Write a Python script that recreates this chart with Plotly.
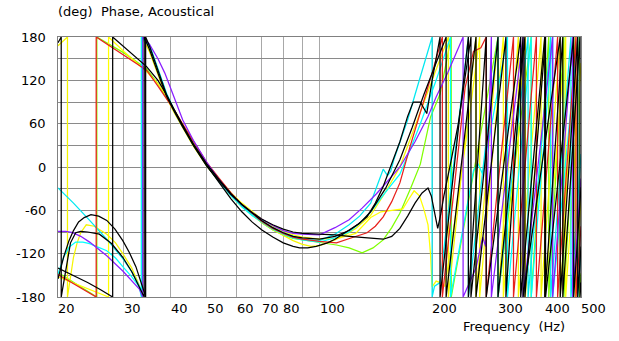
import math
import plotly.graph_objects as go

# ---------------- data ----------------
# Each curve: explicit (freq Hz, phase deg) points up to its first high-frequency wrap,
# then the high-frequency part: numbers are frequencies where the phase wraps from +180
# to -180, (f, phase) pairs are extra points read between wraps; and its value at 500 Hz.

black1_f = [20, 20.7, 21.4, 22, 22.7, 23.5, 24.5, 25.7, 27, 28.4, 29.8, 31, 32.3, 33.3, 34, 34.3,
            34.3, 35.1, 37, 39, 41, 43, 46, 50, 54, 58, 62, 66, 70, 75, 80, 85, 88.5, 93, 98, 105, 110,
            120, 127, 134, 141, 148, 156, 164, 172, 178, 186, 193.5, 200, 210]
black1_p = [-155, -125, -102, -88, -76, -70, -66, -68, -74, -86, -102, -118, -138, -157, -173, -180,
            180, 168, 134, 100, 78, 58, 31, 2, -22, -44, -62, -76, -87, -97, -105, -110, -112, -112, -110, -105, -100,
            -87, -79, -69, -50, -27, 5, 35, 70, 90, 90, 74, 120, 180]
black1_hf = [250, 279, 345, 400, 447, 497]
black1_end = -160

black2_f = [20, 20.4, 20.4, 20.7, 21, 21.3, 21.6, 22.3, 23, 24, 25.8, 27.8, 29.8, 31.5, 33.3, 34,
            34, 35.1, 37, 39, 41, 43, 46, 50, 54, 58, 62, 66, 70, 75, 80, 85, 90, 100, 110, 120, 137, 148,
            156, 164, 172, 180, 188, 195, 199, 203, 207, 211, 215, 225, 235, 254]
black2_p = [172, 180, -180, -160, -140, -120, -105, -91, -89, -90, -93, -106, -125, -145, -169, -180,
            180, 163, 130, 98, 76, 56, 30, 1, -20, -38, -52, -63, -72, -80, -86, -90, -92, -93, -94, -96, -99, -100,
            -96, -85, -68, -50, -36, -29, -40, -65, -85, -65, -40, 10, 60, 180]
black2_hf = [300, 354, 402, 478]
black2_end = -28

black3_f = [20, 22, 24, 26, 28, 28, 30, 34.5, 37, 39, 41, 43, 46, 50, 54, 58, 62, 66, 70, 75, 80, 85, 90,
            100, 110, 120, 128, 137, 150, 164, 177, 190, 204, 218]
black3_p = [-140, -150, -160, -170, -180, 180, 166, 139, 120, 100, 78, 58, 32, 4, -18, -37, -52, -64, -74, -84, -91, -96, -98,
            -100, -96, -88, -78, -62, -30, 10, 55, 100, 140, 180]
black3_hf = [262, 315, 350, 440, 490]
black3_end = -110

red_f = [20, 22.5, 25.3, 25.3, 30, 34.5, 37, 39, 41, 43, 46, 50, 54, 58, 62, 66, 70, 75, 80, 85, 90, 100,
         111, 122, 134, 141, 148, 156, 164, 175, 186, 200, 213]
red_p = [-149, -165, -180, 180, 155, 134, 112, 95, 78, 60, 36, 6, -16, -36, -52, -64, -75, -85, -92, -97, -100, -103,
         -105, -98, -91, -82, -69, -48, -22, 30, 75, 130, 180]
red_hf = [(245, 110), (258, 160), (270, 165), 279, 330, 380, 433, 485]
red_end = -82

yellow1_f = [20, 21.2, 21.2, 21.6, 22, 22.5, 23, 23.8, 25, 27, 28.5, 29.8, 31.5, 33, 33.5,
             33.5, 35.1, 37, 39, 41, 43, 46, 50, 54, 58, 62, 66, 70, 75, 80, 85, 90, 95, 100, 110, 118, 125,
             137, 150, 164, 175, 186, 200, 221]
yellow1_p = [168, 180, -180, -150, -125, -105, -91, -80, -82, -93, -105, -120, -140, -164, -180,
             180, 160, 128, 96, 74, 55, 29, 1, -21, -40, -55, -67, -77, -87, -95, -102, -107, -110, -109, -101, -93, -85,
             -67, -35, 0, 40, 75, 120, 180]
yellow1_hf = [262, 300, 340, 391, 440, 483]
yellow1_end = -44

yellow2_f = [20, 24, 27.3, 27.3, 30, 34.5, 37, 39, 41, 43, 46, 50, 54, 58, 62, 66, 70, 75, 80, 85, 90, 100, 112,
             125, 130, 137, 146, 155, 167, 173, 179, 185, 190, 195, 198, 200, 205, 210, 216, 225, 235, 250, 268]
yellow2_p = [-152, -168, -180, 180, 160, 132, 115, 99, 78, 59, 33, 5, -17, -36, -50, -62, -72, -82, -89, -94, -97, -100, -99,
             -92, -82, -70, -62, -60, -58, -45, -33, -40, -58, -80, -120, -166, -158, -160, -165, -110, -40, 60, 180]
yellow2_hf = [310, 355, 400, 455]
yellow2_end = 144

cyan1_f = [20, 22, 24.3, 27, 29.8, 31.5, 33.3, 33.6, 33.6, 35.1, 37, 39, 41, 43, 46, 50, 54, 58, 62, 66, 70, 75, 80,
           85, 90, 100, 110, 120, 128, 137, 142, 145, 148, 152, 155, 158, 164, 172, 180, 190, 200]
cyan1_p = [-29, -50, -74, -100, -127, -145, -169, -180, 180, 170, 136, 102, 78, 58, 31, 2, -20, -39, -54, -65, -74, -84, -91,
           -96, -100, -102, -93, -80, -68, -50, -28, -15, -3, -12, -6, 10, 33, 65, 100, 140, 180]
cyan1_hf = [(203, -165), (210, -160), 250, 300, 361, 415, 470]
cyan1_end = 18

cyan2_f = [20, 20.7, 21.4, 22.3, 23.3, 24.3, 27, 28.5, 29.8, 31.5, 33, 33.4, 33.4, 35.1, 37, 39, 41, 43, 46, 50, 54,
           58, 62, 66, 70, 75, 80, 85, 90, 100, 110, 120, 128, 137, 150, 164, 175, 186, 205, 224]
cyan2_p = [-148, -125, -111, -104, -104, -106, -116, -126, -138, -152, -166, -180, 180, 167, 134, 100, 77, 57, 31, 2, -21,
           -40, -55, -67, -76, -86, -93, -98, -101, -104, -98, -90, -78, -62, -35, -10, 25, 60, 120, 180]
cyan2_hf = [(258, -5), (265, 5), (273, -10), 318, 368, 420, 490]
cyan2_end = -115

purple_f = [20, 21, 21.9, 23, 24.3, 27, 29.8, 31.5, 33, 33.7, 33.7, 35.1, 37, 38.6, 41, 43.1, 46, 50, 54, 58, 62, 66,
            70, 75, 80, 85, 90, 95, 100, 110, 120, 130, 142, 153, 164, 180, 195, 205, 220, 242]
purple_p = [-89, -89, -91, -96, -104, -123, -144, -157, -169, -180, 180, 170, 150, 130, 95, 65, 37, 6, -18, -38, -52, -63,
            -72, -81, -88, -92, -93, -94, -94, -84, -73, -57, -37, -18, 0, 35, 70, 97, 130, 180]
purple_hf = [(262, -140), (273, -97), (278, -110), 288, 350, 420, 475]
purple_end = -16

green_f = [20, 22.5, 25.4, 25.4, 30, 34.5, 37, 39, 41, 43, 46, 50, 54, 58, 62, 66, 70, 75, 80, 85, 90, 100,
           111, 120, 130, 139, 148, 156, 164, 175, 186, 198, 210, 225]
green_p = [-146, -163, -180, 180, 158, 136, 115, 96, 76, 57, 32, 3, -19, -38, -53, -66, -77, -87, -94, -99, -101, -104,
           -108, -112, -119, -112, -101, -84, -64, -30, 4, 69, 101, 180]
green_hf = [300, 368, 410, 450, 495]
green_end = -147

y_ticks = [-180, -120, -60, 0, 60, 120, 180]
x_ticks = [20, 30, 40, 50, 60, 70, 80, 100, 200, 300, 400, 500]
x_grid = [20, 30, 40, 50, 60, 70, 80, 90, 100, 200, 300, 400, 500]

# ---------------- build ----------------
def build(f, p, hf, end):
    xs, ys = list(f), list(p)
    xs.append(f[-1]); ys.append(-180)
    for item in hf:
        if isinstance(item, tuple):
            xs.append(item[0]); ys.append(item[1])
        else:
            xs += [item, item]
            ys += [180, -180]
    xs.append(500); ys.append(end)
    return xs, ys

curves = [
    (green_f, green_p, green_hf, green_end, "#7fff00"),
    (yellow2_f, yellow2_p, yellow2_hf, yellow2_end, "#ffff00"),
    (yellow1_f, yellow1_p, yellow1_hf, yellow1_end, "#f5f500"),
    (cyan2_f, cyan2_p, cyan2_hf, cyan2_end, "#00ffff"),
    (cyan1_f, cyan1_p, cyan1_hf, cyan1_end, "#00e8f0"),
    (red_f, red_p, red_hf, red_end, "#e8201c"),
    (purple_f, purple_p, purple_hf, purple_end, "#8a1eff"),
    (black3_f, black3_p, black3_hf, black3_end, "#000000"),
    (black2_f, black2_p, black2_hf, black2_end, "#000000"),
    (black1_f, black1_p, black1_hf, black1_end, "#000000"),
]

fig = go.Figure()
for f, p, hf, e, c in curves:
    xs, ys = build(f, p, hf, e)
    fig.add_trace(go.Scatter(x=xs, y=ys, mode="lines",
                             line=dict(color=c, width=1.25), hoverinfo="skip"))

FONT = dict(family="DejaVu Sans, Verdana, sans-serif", size=13, color="#000000")

ann = []
for t in y_ticks:
    ann.append(dict(x=0, xref="paper", y=t, yref="y", text=str(t), showarrow=False,
                    xanchor="right", yanchor="middle", xshift=-10, font=FONT))
for t in x_ticks:
    ann.append(dict(x=math.log10(t), xref="x", y=0, yref="paper", text=str(t), showarrow=False,
                    xanchor="left", yanchor="top", xshift=-2, yshift=-2, font=FONT))
ann.append(dict(x=0, xref="paper", y=1, yref="paper", text="(deg)\u00a0\u00a0Phase, Acoustical",
                showarrow=False, xanchor="left", yanchor="bottom", xshift=-2, yshift=16, font=FONT))
ann.append(dict(x=0.7744, xref="paper", y=0, yref="paper", text="Frequency\u00a0\u00a0(Hz)",
                showarrow=False, xanchor="left", yanchor="top", xshift=-2, yshift=-20, font=FONT))

shapes = [
    dict(type="line", xref="x", yref="y", x0=2, x1=2, y0=-180, y1=180,
         line=dict(color="#707070", width=1.3), layer="below"),
    dict(type="line", xref="x", yref="paper", x0=math.log10(20), x1=math.log10(20), y0=0, y1=1,
         line=dict(color="#808080", width=3), layer="below"),
]
for m in [35, 45, 150]:
    for y0, y1 in [(180, 174), (-180, -174)]:
        shapes.append(dict(type="line", xref="x", yref="y", x0=math.log10(m), x1=math.log10(m),
                           y0=y0, y1=y1, line=dict(color="#a0a0a0", width=1)))

fig.update_layout(
    width=619, height=341,
    margin=dict(l=58, r=38, t=37, b=44),
    paper_bgcolor="white", plot_bgcolor="white",
    showlegend=False,
    annotations=ann, shapes=shapes,
    xaxis=dict(type="log", range=[math.log10(20), math.log10(500)],
               tickvals=x_grid, showticklabels=False, ticks="",
               showgrid=True, gridcolor="#a8a8a8", gridwidth=1,
               zeroline=False, showline=True, linecolor="#808080", linewidth=1, mirror=True),
    yaxis=dict(range=[-180, 180], tickvals=list(range(-180, 181, 30)),
               showticklabels=False, ticks="",
               showgrid=True, gridcolor="#8a8a8a", gridwidth=1,
               zeroline=False, showline=True, linecolor="#808080", linewidth=1, mirror=True),
)

fig.write_html("out.html")
